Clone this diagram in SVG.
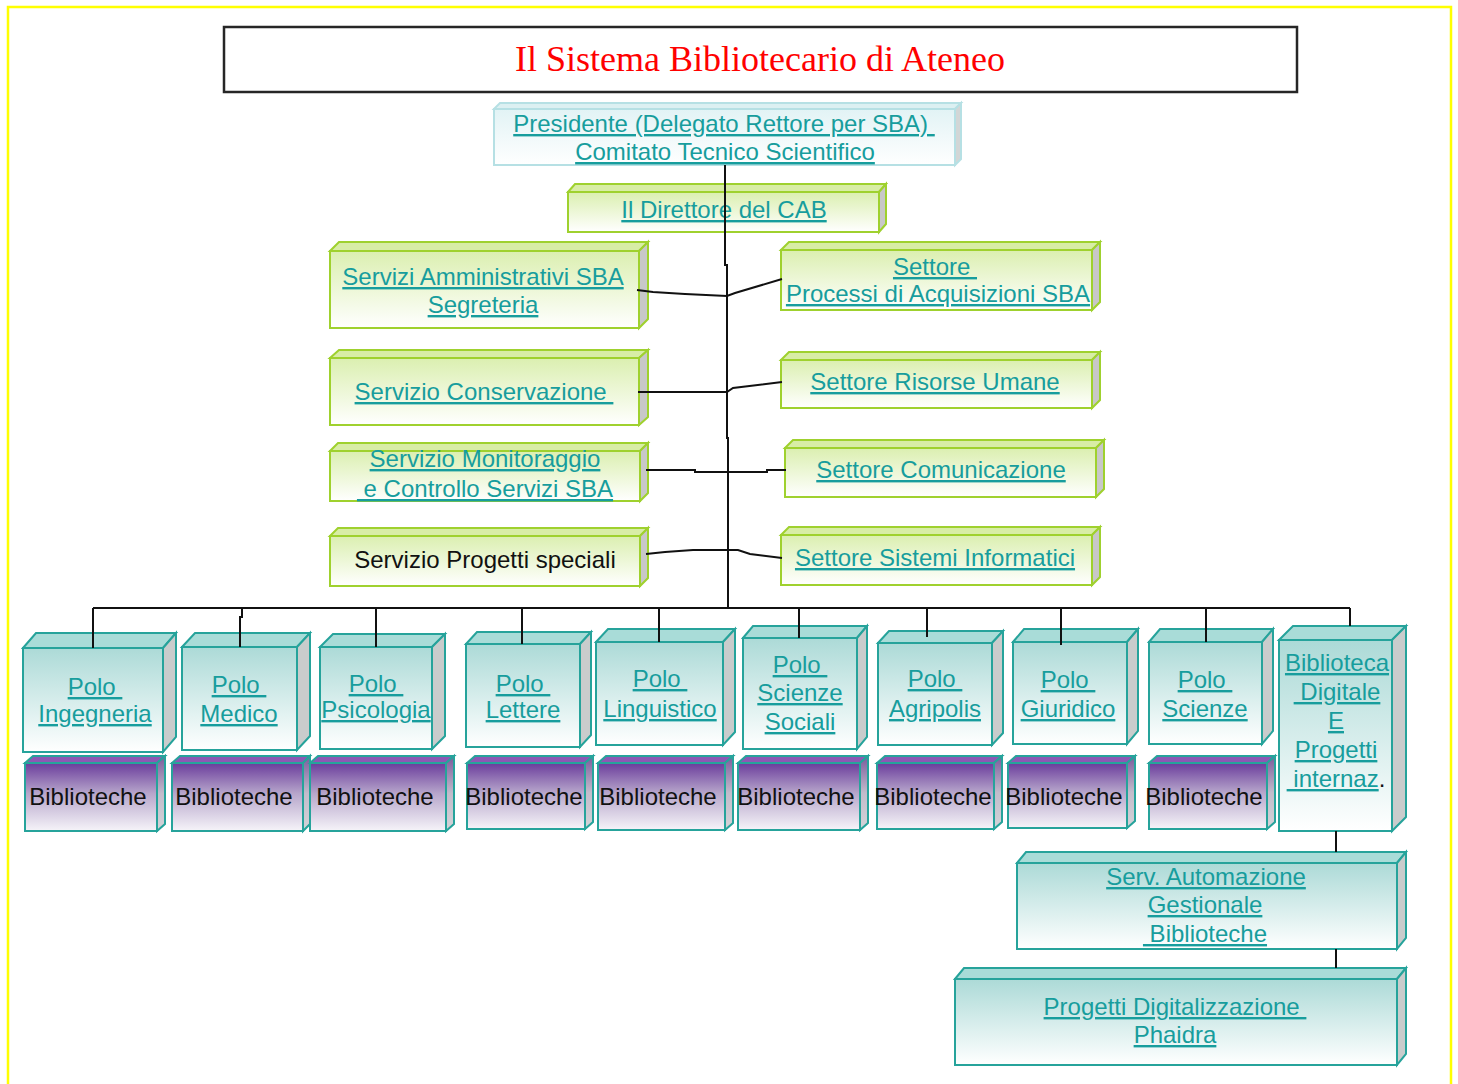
<svg xmlns="http://www.w3.org/2000/svg" width="1458" height="1084" viewBox="0 0 1458 1084" xml:space="preserve">
<defs>
<linearGradient id="gF" x1="0" y1="0" x2="0" y2="1"><stop offset="0" stop-color="#dbefb0"/><stop offset="1" stop-color="#ffffff"/></linearGradient>
<linearGradient id="tF" x1="0" y1="0" x2="0" y2="1"><stop offset="0" stop-color="#acdad7"/><stop offset="1" stop-color="#ffffff"/></linearGradient>
<linearGradient id="pF" x1="0" y1="0" x2="0" y2="1"><stop offset="0" stop-color="#6a3c9c"/><stop offset="0.45" stop-color="#b7a6cb"/><stop offset="1" stop-color="#f6f4f9"/></linearGradient>
<linearGradient id="pS" x1="0" y1="0" x2="0" y2="1"><stop offset="0" stop-color="#7a5a9c"/><stop offset="0.5" stop-color="#c2bccb"/><stop offset="1" stop-color="#d4d4d8"/></linearGradient>
<linearGradient id="cF" x1="0" y1="0" x2="0" y2="1"><stop offset="0" stop-color="#e2f3f5"/><stop offset="1" stop-color="#ffffff"/></linearGradient>
</defs>
<style>
.gf{fill:url(#gF);stroke:#9fd12e;stroke-width:2}
.gt{fill:#d8eda6;stroke:#9fd12e;stroke-width:2}
.gs{fill:#c8c8c8;stroke:#9fd12e;stroke-width:2}
.tf{fill:url(#tF);stroke:#26a39b;stroke-width:2}
.tt{fill:#a9dcd8;stroke:#26a39b;stroke-width:2}
.ts{fill:#c9cccc;stroke:#26a39b;stroke-width:2}
.pf{fill:url(#pF);stroke:#26a39b;stroke-width:2}
.pt{fill:#8c58b4;stroke:#26a39b;stroke-width:2}
.ps{fill:url(#pS);stroke:#26a39b;stroke-width:2}
.cf{fill:url(#cF);stroke:#b6e0e4;stroke-width:2}
.ct{fill:#dcf0f2;stroke:#b6e0e4;stroke-width:2}
.cs{fill:#d2d6d6;stroke:#b6e0e4;stroke-width:2}
.t{font-family:"Liberation Sans",Arial,sans-serif;font-size:24px;fill:#179d9d;text-anchor:middle;text-decoration:underline;text-decoration-thickness:3px;white-space:pre}
.k{font-family:"Liberation Sans",Arial,sans-serif;font-size:24px;fill:#111111;text-anchor:middle;white-space:pre}
.c{fill:none;stroke:#111111;stroke-width:2}
</style>
<rect x="8" y="7" width="1443" height="1100" fill="#ffffff" stroke="#ffff00" stroke-width="2.5"/>
<g id="title">
<rect x="224" y="27" width="1073" height="65" fill="#ffffff" stroke="#262626" stroke-width="2.5"/>
<text x="760" y="71" font-family="Liberation Serif,Times New Roman,serif" font-size="36" fill="#ff0000" text-anchor="middle">Il Sistema Bibliotecario di Ateneo</text>
</g>
<g id="presidente">
<rect class="cf" x="494" y="109" width="461" height="56"/>
<polygon class="ct" points="494,109 500,103 961,103 955,109"/>
<polygon class="cs" points="955,109 961,103 961,159 955,165"/>
<text class="t" x="724" y="132">Presidente (Delegato Rettore per SBA) </text>
<text class="t" x="725" y="160">Comitato Tecnico Scientifico</text>
</g>
<g id="direttore">
<rect class="gf" x="568" y="192" width="311" height="40"/>
<polygon class="gt" points="568,192 575,184 886,184 879,192"/>
<polygon class="gs" points="879,192 886,184 886,224 879,232"/>
<text class="t" x="724" y="218">Il Direttore del CAB</text>
</g>
<g id="servizi-amministrativi">
<rect class="gf" x="330" y="251" width="309" height="77"/>
<polygon class="gt" points="330,251 339,242 648,242 639,251"/>
<polygon class="gs" points="639,251 648,242 648,319 639,328"/>
<text class="t" x="483" y="285">Servizi Amministrativi SBA</text>
<text class="t" x="483" y="313">Segreteria</text>
</g>
<g id="settore-acquisizioni">
<rect class="gf" x="781" y="250" width="311" height="60"/>
<polygon class="gt" points="781,250 789,242 1100,242 1092,250"/>
<polygon class="gs" points="1092,250 1100,242 1100,302 1092,310"/>
<text class="t" x="935" y="275">Settore </text>
<text class="t" x="938" y="302">Processi di Acquisizioni SBA</text>
</g>
<g id="servizio-conservazione">
<rect class="gf" x="330" y="358" width="309" height="67"/>
<polygon class="gt" points="330,358 339,350 648,350 639,358"/>
<polygon class="gs" points="639,358 648,350 648,417 639,425"/>
<text class="t" x="484" y="400">Servizio Conservazione </text>
</g>
<g id="settore-risorse-umane">
<rect class="gf" x="781" y="360" width="311" height="48"/>
<polygon class="gt" points="781,360 789,352 1100,352 1092,360"/>
<polygon class="gs" points="1092,360 1100,352 1100,400 1092,408"/>
<text class="t" x="935" y="390">Settore Risorse Umane</text>
</g>
<g id="servizio-monitoraggio">
<rect class="gf" x="330" y="451" width="310" height="50"/>
<polygon class="gt" points="330,451 338,443 648,443 640,451"/>
<polygon class="gs" points="640,451 648,443 648,493 640,501"/>
<text class="t" x="485" y="467">Servizio Monitoraggio</text>
<text class="t" x="485" y="497"> e Controllo Servizi SBA</text>
</g>
<g id="settore-comunicazione">
<rect class="gf" x="785" y="448" width="311" height="49"/>
<polygon class="gt" points="785,448 793,440 1104,440 1096,448"/>
<polygon class="gs" points="1096,448 1104,440 1104,489 1096,497"/>
<text class="t" x="941" y="478">Settore Comunicazione</text>
</g>
<g id="servizio-progetti-speciali">
<rect class="gf" x="330" y="536" width="310" height="50"/>
<polygon class="gt" points="330,536 338,528 648,528 640,536"/>
<polygon class="gs" points="640,536 648,528 648,578 640,586"/>
<text class="k" x="485" y="568">Servizio Progetti speciali</text>
</g>
<g id="settore-sistemi-informatici">
<rect class="gf" x="781" y="535" width="311" height="50"/>
<polygon class="gt" points="781,535 789,527 1100,527 1092,535"/>
<polygon class="gs" points="1092,535 1100,527 1100,577 1092,585"/>
<text class="t" x="935" y="566">Settore Sistemi Informatici</text>
</g>
<g id="polo-ingegneria">
<rect class="tf" x="23" y="648" width="140" height="104"/>
<polygon class="tt" points="23,648 36,633 176,633 163,648"/>
<polygon class="ts" points="163,648 176,633 176,737 163,752"/>
<text class="t" x="95" y="695">Polo </text>
<text class="t" x="95" y="722">Ingegneria</text>
</g>
<g id="polo-medico">
<rect class="tf" x="182" y="647" width="115" height="103"/>
<polygon class="tt" points="182,647 195,633 310,633 297,647"/>
<polygon class="ts" points="297,647 310,633 310,736 297,750"/>
<text class="t" x="239" y="693">Polo </text>
<text class="t" x="239" y="722">Medico</text>
</g>
<g id="polo-psicologia">
<rect class="tf" x="320" y="647" width="112" height="102"/>
<polygon class="tt" points="320,647 333,634 445,634 432,647"/>
<polygon class="ts" points="432,647 445,634 445,736 432,749"/>
<text class="t" x="376" y="692">Polo </text>
<text class="t" x="376" y="718">Psicologia</text>
</g>
<g id="polo-lettere">
<rect class="tf" x="466" y="644" width="114" height="103"/>
<polygon class="tt" points="466,644 477,632 591,632 580,644"/>
<polygon class="ts" points="580,644 591,632 591,735 580,747"/>
<text class="t" x="523" y="692">Polo </text>
<text class="t" x="523" y="718">Lettere</text>
</g>
<g id="polo-linguistico">
<rect class="tf" x="596" y="642" width="127" height="103"/>
<polygon class="tt" points="596,642 608,629 735,629 723,642"/>
<polygon class="ts" points="723,642 735,629 735,732 723,745"/>
<text class="t" x="660" y="687">Polo </text>
<text class="t" x="660" y="717">Linguistico</text>
</g>
<g id="polo-scienze-sociali">
<rect class="tf" x="743" y="638" width="114" height="111"/>
<polygon class="tt" points="743,638 753,626 867,626 857,638"/>
<polygon class="ts" points="857,638 867,626 867,737 857,749"/>
<text class="t" x="800" y="673">Polo </text>
<text class="t" x="800" y="701">Scienze</text>
<text class="t" x="800" y="730">Sociali</text>
</g>
<g id="polo-agripolis">
<rect class="tf" x="878" y="643" width="114" height="102"/>
<polygon class="tt" points="878,643 889,631 1003,631 992,643"/>
<polygon class="ts" points="992,643 1003,631 1003,733 992,745"/>
<text class="t" x="935" y="687">Polo </text>
<text class="t" x="935" y="717">Agripolis</text>
</g>
<g id="polo-giuridico">
<rect class="tf" x="1013" y="642" width="114" height="102"/>
<polygon class="tt" points="1013,642 1024,629 1138,629 1127,642"/>
<polygon class="ts" points="1127,642 1138,629 1138,731 1127,744"/>
<text class="t" x="1068" y="688">Polo </text>
<text class="t" x="1068" y="717">Giuridico</text>
</g>
<g id="polo-scienze">
<rect class="tf" x="1149" y="642" width="113" height="102"/>
<polygon class="tt" points="1149,642 1160,629 1273,629 1262,642"/>
<polygon class="ts" points="1262,642 1273,629 1273,731 1262,744"/>
<text class="t" x="1205" y="688">Polo </text>
<text class="t" x="1205" y="717">Scienze</text>
</g>
<g id="biblioteca-digitale">
<rect class="tf" x="1279" y="640" width="113" height="191"/>
<polygon class="tt" points="1279,640 1293,626 1406,626 1392,640"/>
<polygon class="ts" points="1392,640 1406,626 1406,817 1392,831"/>
<text class="t" x="1337" y="671">Biblioteca</text>
<text class="t" x="1337" y="700"> Digitale</text>
<text class="t" x="1336" y="729">E</text>
<text class="t" x="1336" y="758">Progetti</text>
<text class="k" x="1336" y="787"><tspan style="text-decoration:underline;text-decoration-thickness:3px;fill:#179d9d"> internaz</tspan>.</text>
</g>
<g id="biblioteche-ingegneria">
<rect class="pf" x="25" y="763" width="132" height="68"/>
<polygon class="pt" points="25,763 33,756 165,756 157,763"/>
<polygon class="ps" points="157,763 165,756 165,824 157,831"/>
<text class="k" x="88" y="805">Biblioteche</text>
</g>
<g id="biblioteche-medico">
<rect class="pf" x="172" y="763" width="131" height="68"/>
<polygon class="pt" points="172,763 180,756 310,756 303,763"/>
<polygon class="ps" points="303,763 310,756 310,824 303,831"/>
<text class="k" x="234" y="805">Biblioteche</text>
</g>
<g id="biblioteche-psicologia">
<rect class="pf" x="310" y="763" width="136" height="68"/>
<polygon class="pt" points="310,763 318,756 454,756 446,763"/>
<polygon class="ps" points="446,763 454,756 454,824 446,831"/>
<text class="k" x="375" y="805">Biblioteche</text>
</g>
<g id="biblioteche-lettere">
<rect class="pf" x="467" y="763" width="118" height="66"/>
<polygon class="pt" points="467,763 475,756 593,756 585,763"/>
<polygon class="ps" points="585,763 593,756 593,822 585,829"/>
<text class="k" x="524" y="805">Biblioteche</text>
</g>
<g id="biblioteche-linguistico">
<rect class="pf" x="598" y="763" width="127" height="67"/>
<polygon class="pt" points="598,763 606,756 733,756 725,763"/>
<polygon class="ps" points="725,763 733,756 733,823 725,830"/>
<text class="k" x="658" y="805">Biblioteche</text>
</g>
<g id="biblioteche-scienze-sociali">
<rect class="pf" x="738" y="763" width="122" height="67"/>
<polygon class="pt" points="738,763 746,756 868,756 860,763"/>
<polygon class="ps" points="860,763 868,756 868,823 860,830"/>
<text class="k" x="796" y="805">Biblioteche</text>
</g>
<g id="biblioteche-agripolis">
<rect class="pf" x="877" y="763" width="117" height="66"/>
<polygon class="pt" points="877,763 885,756 1002,756 994,763"/>
<polygon class="ps" points="994,763 1002,756 1002,822 994,829"/>
<text class="k" x="933" y="805">Biblioteche</text>
</g>
<g id="biblioteche-giuridico">
<rect class="pf" x="1008" y="763" width="119" height="65"/>
<polygon class="pt" points="1008,763 1016,756 1135,756 1127,763"/>
<polygon class="ps" points="1127,763 1135,756 1135,821 1127,828"/>
<text class="k" x="1064" y="805">Biblioteche</text>
</g>
<g id="biblioteche-scienze">
<rect class="pf" x="1149" y="763" width="118" height="66"/>
<polygon class="pt" points="1149,763 1157,756 1275,756 1267,763"/>
<polygon class="ps" points="1267,763 1275,756 1275,822 1267,829"/>
<text class="k" x="1204" y="805">Biblioteche</text>
</g>
<g id="serv-automazione">
<rect class="tf" x="1017" y="863" width="380" height="86"/>
<polygon class="tt" points="1017,863 1026,852 1406,852 1397,863"/>
<polygon class="ts" points="1397,863 1406,852 1406,938 1397,949"/>
<text class="t" x="1206" y="885">Serv. Automazione</text>
<text class="t" x="1205" y="913">Gestionale</text>
<text class="t" x="1205" y="942"> Biblioteche</text>
</g>
<g id="progetti-digitalizzazione">
<rect class="tf" x="955" y="979" width="442" height="86"/>
<polygon class="tt" points="955,979 964,968 1406,968 1397,979"/>
<polygon class="ts" points="1397,979 1406,968 1406,1054 1397,1065"/>
<text class="t" x="1175" y="1015">Progetti Digitalizzazione </text>
<text class="t" x="1175" y="1043">Phaidra</text>
</g>
<g id="connectors">
<polyline class="c" points="725,165 725,265 727,265 727,438 728,438 728,608"/>
<polyline class="c" points="637,290 653,292 685,294 727,296 735,293 782,279"/>
<polyline class="c" points="638,392 727,392 733,388 782,382"/>
<polyline class="c" points="646,470 695,470 695,472 767,472 767,470 786,470"/>
<polyline class="c" points="646,554 665,552 693,550 738,550 750,554 782,558"/>
<line class="c" x1="93" y1="608" x2="1350" y2="608"/>
<line class="c" x1="93" y1="608" x2="93" y2="648"/>
<polyline class="c" points="242,608 242,617 240,617 240,647"/>
<line class="c" x1="376" y1="608" x2="376" y2="647"/>
<line class="c" x1="522" y1="608" x2="522" y2="644"/>
<line class="c" x1="659" y1="608" x2="659" y2="642"/>
<line class="c" x1="799" y1="608" x2="799" y2="638"/>
<line class="c" x1="927" y1="608" x2="927" y2="637"/>
<line class="c" x1="1061" y1="608" x2="1061" y2="645"/>
<line class="c" x1="1206" y1="608" x2="1206" y2="642"/>
<line class="c" x1="1350" y1="608" x2="1350" y2="626"/>
<line class="c" x1="1336" y1="831" x2="1336" y2="852"/>
<line class="c" x1="1336" y1="949" x2="1336" y2="968"/>
</g>
</svg>
